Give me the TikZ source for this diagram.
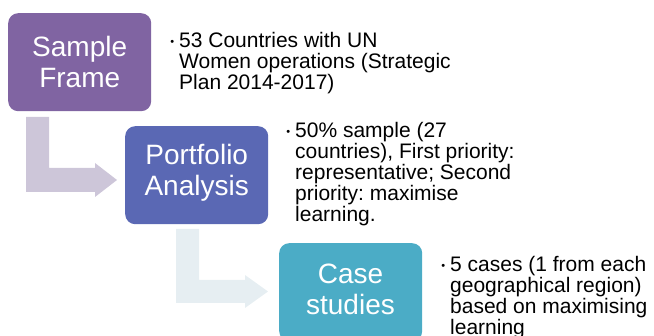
\documentclass[tikz,border=0pt]{standalone}
\usepackage{fontspec}
\setmainfont{Liberation Sans}
\usetikzlibrary{calc}
\frenchspacing
\definecolor{cPurple}{HTML}{8064A2}
\definecolor{cBlue}{HTML}{5A68B4}
\definecolor{cTeal}{HTML}{4BACC6}
\definecolor{cArrowA}{HTML}{CDC6D9}
\definecolor{cArrowB}{HTML}{E6EEF2}
\newcommand{\bulletmark}{\llap{\raisebox{2pt}{\fontsize{11}{11}\selectfont•}\hspace{5pt}}}
\begin{document}
\begin{tikzpicture}[x=1pt,y=-1pt,
  stagebox/.style={rounded corners=10pt,minimum width=143pt,minimum height=98pt,inner sep=0pt,draw=none},
  stagetext/.style={text=white,align=center,inner sep=0pt,font=\fontsize{28}{31}\selectfont},
  bullettext/.style={align=left,inner sep=0pt,anchor=base west,font=\fontsize{21}{21}\selectfont},
]
\useasboundingbox (0,0) rectangle (654,336);
\clip (0,0) rectangle (654,336);
% bent arrows
\fill[cArrowA] (26,117) -- (26,192) -- (95,192) -- (95,197) -- (117,180) -- (95,163) -- (95,168) -- (49,168) -- (49,117) -- cycle;
\fill[cArrowB] (176,229) -- (176,303) -- (245,303) -- (245,308) -- (268,291.5) -- (245,275) -- (245,280) -- (199,280) -- (199,229) -- cycle;
% boxes
\node[stagebox,fill=cPurple,anchor=north west] (b1) at (8,13) {};
\node[stagebox,fill=cBlue,anchor=north west] (b2) at (125,126) {};
\node[stagebox,fill=cTeal,anchor=north west] (b3) at (279,243) {};
\node[stagetext] (t1) at (b1.center) {Sample\\Frame};
\node[stagetext] (t2) at ($(b2.center)+(0,-2)$) {Portfolio\\Analysis};
\node[stagetext] (t3) at (350.5,289) {Case\\studies};
% descriptions (anchor = baseline of last line)
\node[bullettext] (d1) at (179,90) {\bulletmark 53 Countries with UN\\Women operations (Strategic\\Plan 2014-2017)};
\node[bullettext] (d2) at (295,222) {\bulletmark 50\% sample (27\\countries), First priority:\\representative; Second\\priority: maximise\\learning.};
\node[bullettext] (d3) at (450,335) {\bulletmark 5 cases (1 from each\\geographical region)\\based on maximising\\learning};
\end{tikzpicture}
\end{document}
